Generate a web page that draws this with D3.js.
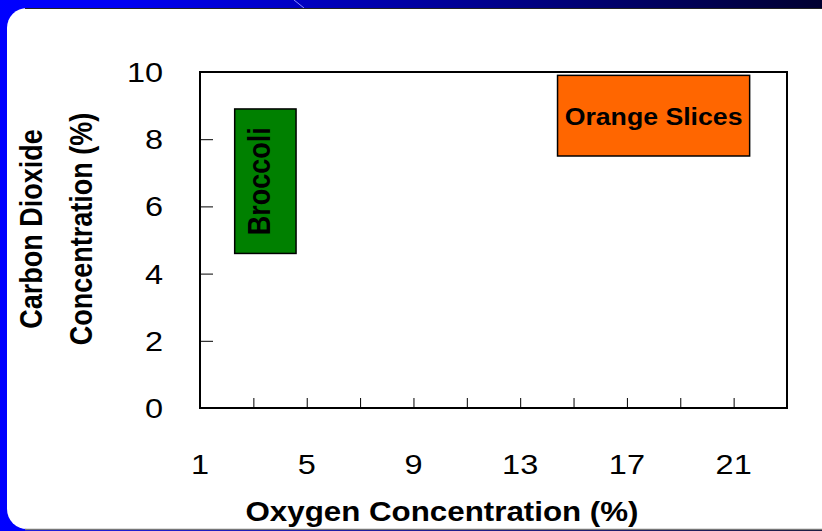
<!DOCTYPE html>
<html>
<head>
<meta charset="utf-8">
<script src="https://cdn.jsdelivr.net/npm/d3@7"></script>
<style>
  html, body { margin: 0; padding: 0; background: #fff; }
  svg { display: block; font-family: "Liberation Sans", Arial, sans-serif; }
</style>
</head>
<body>
<svg id="chart" width="822" height="531"></svg>
<script>
// ---- data ----
const products = ["Broccoli", "Orange Slices"];
const o2Min  = [2.3, 14.4];
const o2Max  = [4.6, 21.6];
const co2Min = [4.6, 7.5];
const co2Max = [8.9, 9.9];
const fillColors = ["#008000", "#ff6600"];
const xTickValues = [3, 5, 7, 9, 11, 13, 15, 17, 19, 21];
const xLabelValues = [1, 5, 9, 13, 17, 21];
const yTickValues = [0, 2, 4, 6, 8, 10];
const xTitle = "Oxygen Concentration (%)";
const yTitle = ["Carbon Dioxide", "Concentration (%)"];

const W = 822, H = 531;
const SX = 1.16; // horizontal stretch of the slide
const svg = d3.select("#chart");

// background gradient
const defs = svg.append("defs");
const grad = defs.append("linearGradient").attr("id", "bg").attr("x1", 0).attr("x2", 1).attr("y1", 0).attr("y2", 0);
grad.append("stop").attr("offset", 0).attr("stop-color", "#0000ff");
grad.append("stop").attr("offset", 0.15).attr("stop-color", "#0000f2");
grad.append("stop").attr("offset", 1).attr("stop-color", "#000030");
svg.append("rect").attr("width", W).attr("height", H).attr("fill", "url(#bg)");
svg.append("line").attr("x1", 294).attr("y1", 0).attr("x2", 304).attr("y2", 8)
  .attr("stroke", "#8a8aff").attr("stroke-width", 1);

// white panel
svg.append("rect").attr("x", 7).attr("y", 8).attr("width", W + 40).attr("height", 521)
  .attr("rx", 20).attr("ry", 20).attr("fill", "#fff");
svg.append("line").attr("x1", 25).attr("x2", W).attr("y1", 8.5).attr("y2", 8.5).attr("stroke", "#222").attr("stroke-width", 1);
svg.append("line").attr("x1", 25).attr("x2", W).attr("y1", 529.5).attr("y2", 529.5).attr("stroke", "#777").attr("stroke-width", 1.5);

// scales
const plot = { left: 200, right: 787, top: 72, bottom: 408 };
const x = d3.scaleLinear().domain([1, 23]).range([plot.left, plot.right]);
const y = d3.scaleLinear().domain([0, 10]).range([plot.bottom, plot.top]);

// plot border
svg.append("rect").attr("x", plot.left).attr("y", plot.top)
  .attr("width", plot.right - plot.left).attr("height", plot.bottom - plot.top)
  .attr("fill", "none").attr("stroke", "#000").attr("stroke-width", 2);

// x ticks (inward)
const xAxis = d3.axisTop(x).tickValues(xTickValues).tickSize(10).tickFormat("");
const gx = svg.append("g").attr("transform", `translate(0,${plot.bottom})`).call(xAxis);
gx.select(".domain").remove();
gx.selectAll(".tick line").attr("stroke", "#000").attr("stroke-width", 1);

// y ticks (inward)
const yAxis = d3.axisRight(y).tickValues(yTickValues.filter(v => v > 0 && v < 10)).tickSize(13).tickFormat("");
const gy = svg.append("g").attr("transform", `translate(${plot.left},0)`).call(yAxis);
gy.select(".domain").remove();
gy.selectAll(".tick line").attr("stroke", "#000").attr("stroke-width", 1);

// tick labels
const txt = (sel) => sel.attr("fill", "#000");
svg.append("g").selectAll("text").data(xLabelValues).join("text")
  .attr("transform", d => `translate(${x(d)},474) scale(${SX},1)`)
  .attr("text-anchor", "middle").attr("font-size", 28).call(txt)
  .text(d => d);
svg.append("g").selectAll("text").data(yTickValues).join("text")
  .attr("transform", d => `translate(163,${y(d) + 10}) scale(${SX},1)`)
  .attr("text-anchor", "end").attr("font-size", 28).call(txt)
  .text(d => d);

// axis titles
svg.append("text").attr("transform", `translate(442,521) scale(${SX},1)`)
  .attr("text-anchor", "middle").attr("font-size", 27).attr("font-weight", "bold")
  .text(xTitle);
svg.append("g").selectAll("text").data(yTitle).join("text")
  .attr("transform", (d, i) => `translate(${[42, 92][i]},229) scale(${SX},1) rotate(-90)`)
  .attr("text-anchor", "middle").attr("font-size", 27).attr("font-weight", "bold")
  .text(d => d);

// range boxes
const boxes = svg.append("g").selectAll("g").data(products).join("g");
boxes.append("rect")
  .attr("x", (d, i) => x(o2Min[i]))
  .attr("y", (d, i) => y(co2Max[i]))
  .attr("width", (d, i) => x(o2Max[i]) - x(o2Min[i]))
  .attr("height", (d, i) => y(co2Min[i]) - y(co2Max[i]))
  .attr("fill", (d, i) => fillColors[i])
  .attr("stroke", "#000").attr("stroke-width", 1.5);

// labels: Broccoli rotated, Orange Slices horizontal
boxes.append("text")
  .attr("transform", (d, i) => {
    const cx = (x(o2Min[i]) + x(o2Max[i])) / 2;
    const cy = (y(co2Min[i]) + y(co2Max[i])) / 2;
    return i === 0
      ? `translate(${cx + 5},${cy}) scale(${SX},1) rotate(-90)`
      : `translate(${cx},${cy + 9}) scale(${SX},1)`;
  })
  .attr("text-anchor", "middle")
  .attr("font-size", (d, i) => i === 0 ? 27 : 23)
  .attr("font-weight", "bold")
  .text(d => d);
</script>
</body>
</html>
